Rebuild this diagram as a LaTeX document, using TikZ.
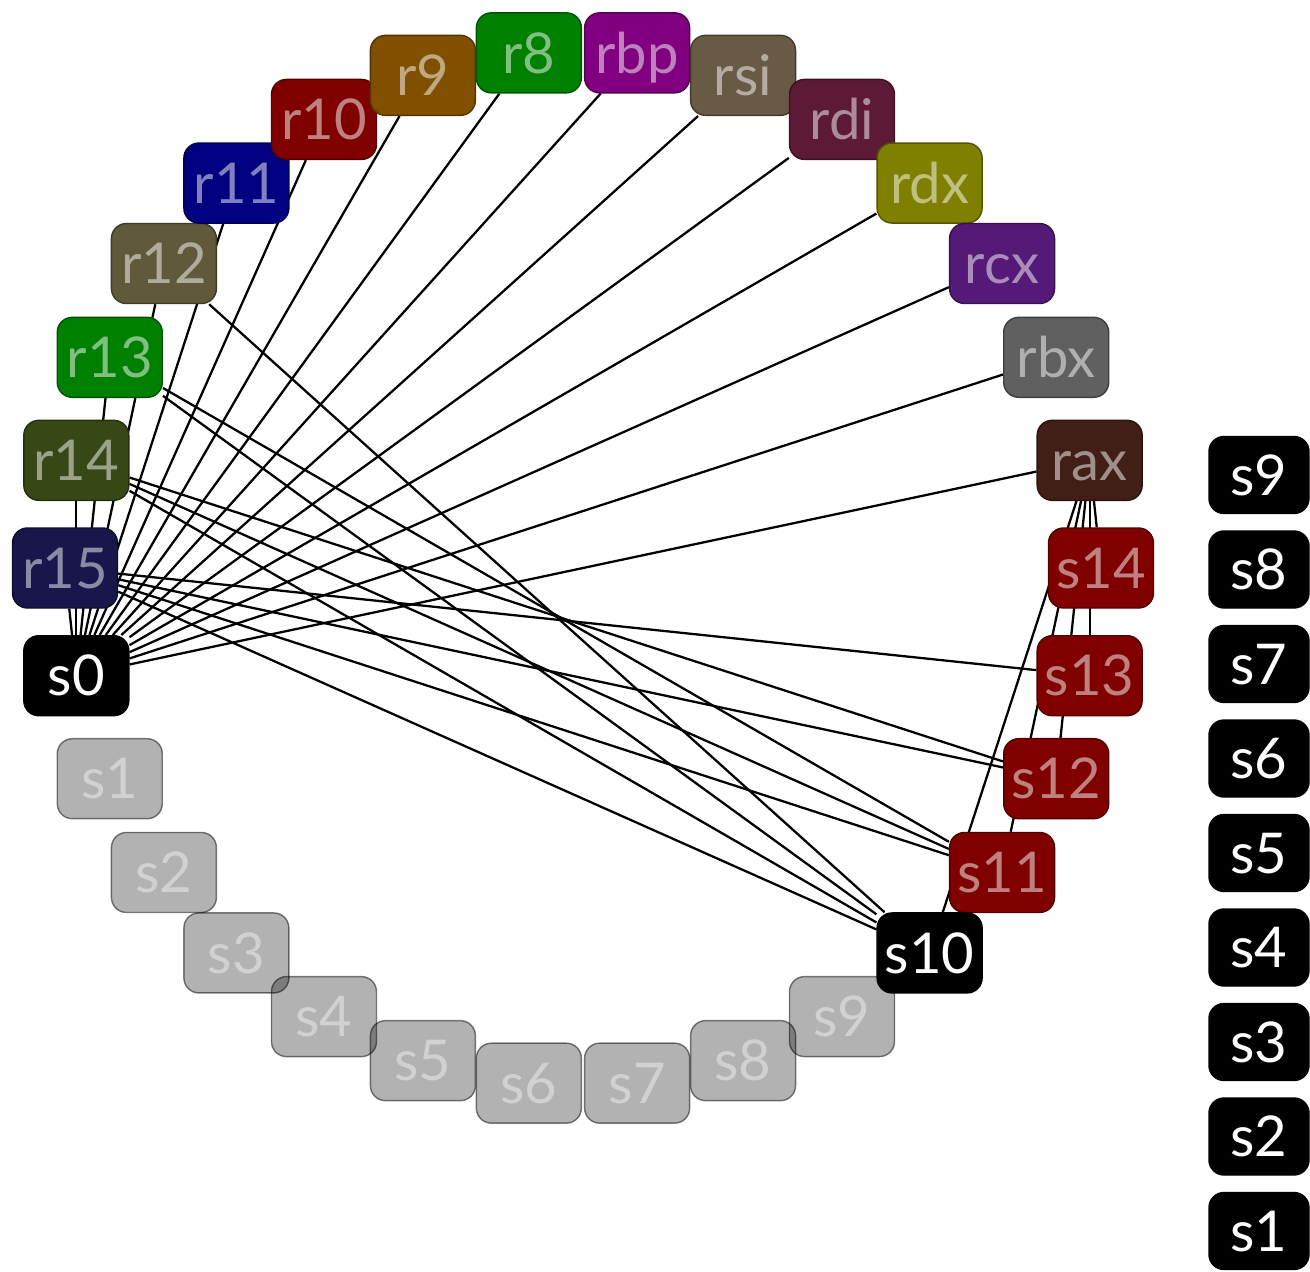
\documentclass[tikz,border=0pt]{standalone}
\usepackage{fontspec}
\setmainfont{Lato}
\usetikzlibrary{backgrounds}

\definecolor{cr8}{RGB}{0,128,0}
\definecolor{cr9}{RGB}{128,80,0}
\definecolor{cr10}{RGB}{128,0,0}
\definecolor{cr11}{RGB}{0,0,128}
\definecolor{cr12}{RGB}{96,90,58}
\definecolor{cr13}{RGB}{0,128,0}
\definecolor{cr14}{RGB}{54,72,22}
\definecolor{cr15}{RGB}{24,22,74}
\definecolor{crbp}{RGB}{128,0,128}
\definecolor{crsi}{RGB}{105,90,70}
\definecolor{crdi}{RGB}{92,26,54}
\definecolor{crdx}{RGB}{128,128,0}
\definecolor{crcx}{RGB}{85,26,120}
\definecolor{crbx}{RGB}{96,96,96}
\definecolor{crax}{RGB}{66,31,22}
\definecolor{cslot}{RGB}{128,0,0}

\begin{document}
\begin{tikzpicture}[
    basebox/.style={rounded corners=0.3cm, minimum width=2.1cm, minimum height=1.6cm,
        inner sep=0pt, line width=0.8pt, text height=23pt, text depth=0pt,
        font=\fontsize{32}{32}\selectfont},
    regbox/.style={basebox, fill=#1, draw=#1!65!black, text=white, text opacity=0.5},
    slotbox/.style={basebox, fill=black, draw=black, text=white},
    freebox/.style={basebox, fill=black, fill opacity=0.3, draw=black, draw opacity=0.5,
        text=white, text opacity=0.4},
    sidebox/.style={slotbox, minimum width=2cm, minimum height=1.54cm},
    arco/.style={line width=1.3pt}
]
\useasboundingbox (-11.66,11.36) rectangle (14.54,-14.06);

\node[regbox=cr8] (r8) at (96:10.36) {r8};
\node[regbox=crbp] (rbp) at (84:10.36) {rbp};
\node[regbox=crsi] (rsi) at (72:10.36) {rsi};
\node[regbox=crdi] (rdi) at (60:10.36) {rdi};
\node[regbox=crdx] (rdx) at (48:10.36) {rdx};
\node[regbox=crcx] (rcx) at (36:10.36) {rcx};
\node[regbox=crbx] (rbx) at (24:10.36) {rbx};
\node[regbox=crax] (rax) at (12:10.36) {rax};
\node[regbox=cslot] (s14) at (0:10.36) {s14};
\node[regbox=cslot] (s13) at (-12:10.36) {s13};
\node[regbox=cslot] (s12) at (-24:10.36) {s12};
\node[regbox=cslot] (s11) at (-36:10.36) {s11};
\node[slotbox] (s10) at (-48:10.36) {s10};
\node[freebox] (s9) at (-60:10.36) {s9};
\node[freebox] (s8) at (-72:10.36) {s8};
\node[freebox] (s7) at (-84:10.36) {s7};
\node[freebox] (s6) at (-96:10.36) {s6};
\node[freebox] (s5) at (-108:10.36) {s5};
\node[freebox] (s4) at (-120:10.36) {s4};
\node[freebox] (s3) at (-132:10.36) {s3};
\node[freebox] (s2) at (-144:10.36) {s2};
\node[freebox] (s1) at (-156:10.36) {s1};
\node[slotbox] (s0) at (-168:10.36) {s0};
\node[regbox=cr15] (r15) at (180:10.36) {r15};
\node[regbox=cr14] (r14) at (168:10.36) {r14};
\node[regbox=cr13] (r13) at (156:10.36) {r13};
\node[regbox=cr12] (r12) at (144:10.36) {r12};
\node[regbox=cr11] (r11) at (132:10.36) {r11};
\node[regbox=cr10] (r10) at (120:10.36) {r10};
\node[regbox=cr9] (r9) at (108:10.36) {r9};

%Colonna
\node[sidebox] (t9) at (13.52,1.86) {s9};
\node[sidebox] (t8) at (13.52,-0.03) {s8};
\node[sidebox] (t7) at (13.52,-1.92) {s7};
\node[sidebox] (t6) at (13.52,-3.81) {s6};
\node[sidebox] (t5) at (13.52,-5.70) {s5};
\node[sidebox] (t4) at (13.52,-7.59) {s4};
\node[sidebox] (t3) at (13.52,-9.48) {s3};
\node[sidebox] (t2) at (13.52,-11.37) {s2};
\node[sidebox] (t1) at (13.52,-13.26) {s1};

%Collegamenti
\begin{pgfonlayer}{background}
\draw[arco] (s0) edge (r15);
\draw[arco] (s0) edge (r14);
\draw[arco] (s0) edge (r13);
\draw[arco] (s0) edge (r12);
\draw[arco] (s0) edge (r11);
\draw[arco] (s0) edge (r10);
\draw[arco] (s0) edge (r9);
\draw[arco] (s0) edge (r8);
\draw[arco] (s0) edge (rbp);
\draw[arco] (s0) edge (rsi);
\draw[arco] (s0) edge (rdi);
\draw[arco] (s0) edge (rdx);
\draw[arco] (s0) edge (rcx);
\draw[arco] (s0) edge (rbx);
\draw[arco] (s0) edge (rax);
\draw[arco] (s10) edge (r12);
\draw[arco] (s10) edge (r13);
\draw[arco] (s10) edge (r14);
\draw[arco] (s10) edge (r15);
\draw[arco] (s10) edge (rax);
\draw[arco] (s11) edge (r13);
\draw[arco] (s11) edge (r14);
\draw[arco] (s11) edge (r15);
\draw[arco] (s11) edge (rax);
\draw[arco] (s12) edge (r14);
\draw[arco] (s12) edge (r15);
\draw[arco] (s12) edge (rax);
\draw[arco] (s13) edge (r15);
\draw[arco] (s13) edge (rax);
\draw[arco] (s14) edge (rax);
\end{pgfonlayer}
\end{tikzpicture}
\end{document}
